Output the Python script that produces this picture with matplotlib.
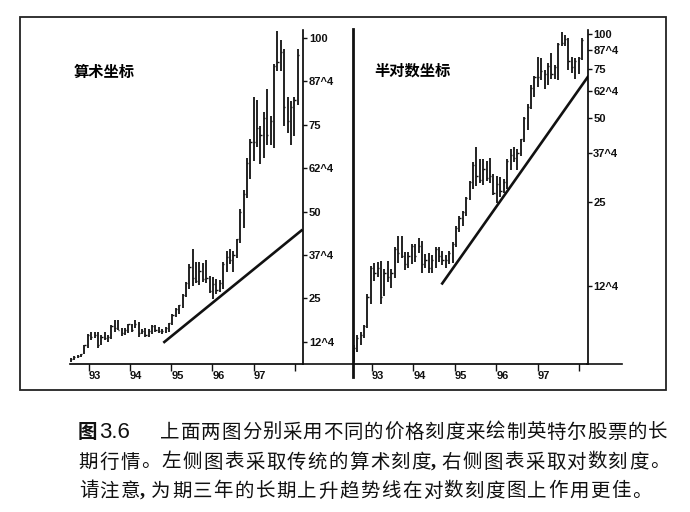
import numpy as np
import matplotlib
matplotlib.use('Agg')
import matplotlib.pyplot as plt
from matplotlib.lines import Line2D
from matplotlib.patches import Rectangle

plt.rcParams['font.family'] = ['Liberation Sans', 'Noto Sans CJK SC']

# ---------- data (Intel monthly bars) ----------
highs = [7.7, 8.4, 8.6, 9.1, 11.7, 14.8, 15.2, 15.3, 15.4, 14.4, 15.4, 14.4,
         17.3, 18.9, 18.9, 16.6, 16.6, 17.7, 17.7, 18.7, 18.2, 16.3, 16.5, 16.2,
         17.3, 17.3, 16.7, 16.2, 16.7, 18.0, 20.6, 22.3, 23.2, 26.2, 29.8, 34.9,
         39.3, 35.6, 35.6, 35.1, 36.1, 31.5, 31.1, 30.7, 30.2, 35.6, 38.7, 39.3,
         38.7, 42.2, 50.6, 56.2, 65.5, 71.0, 83.0, 82.0, 74.6, 78.7, 85.3, 77.6,
         92.6, 102.0, 99.3, 96.7, 83.0, 81.9, 83.0, 96.7]
lows = [6.7, 7.3, 7.7, 8.2, 8.9, 10.8, 13.1, 13.5, 10.8, 11.6, 13.0, 12.3,
        13.4, 15.2, 15.8, 14.3, 14.5, 15.0, 15.3, 16.5, 14.0, 14.6, 14.0, 14.0,
        14.6, 15.3, 14.9, 14.6, 15.1, 15.2, 17.3, 19.5, 20.6, 22.3, 25.5, 27.8,
        28.6, 29.4, 28.8, 29.7, 29.4, 26.6, 24.9, 26.2, 26.9, 27.8, 32.6, 34.9,
        32.6, 36.7, 41.0, 45.4, 53.8, 59.5, 64.6, 68.5, 63.7, 65.5, 69.1, 69.1,
        68.2, 90.5, 90.5, 74.6, 72.6, 69.1, 71.7, 80.8]
closes = [7.5, 8.2, 8.4, 9.0, 11.5, 14.5, 14.0, 14.5, 11.5, 14.0, 13.5, 14.0,
          17.0, 16.5, 16.0, 15.0, 16.0, 17.5, 16.0, 17.5, 15.0, 15.5, 14.5, 15.5,
          17.0, 16.0, 15.5, 15.5, 16.5, 17.8, 20.3, 22.0, 23.0, 26.0, 29.5, 34.0,
          31.0, 30.0, 33.0, 30.5, 31.0, 27.0, 29.0, 27.5, 29.5, 35.0, 37.0, 36.0,
          37.5, 42.0, 50.0, 55.0, 64.0, 70.0, 70.0, 74.0, 72.0, 77.0, 72.0, 76.0,
          92.0, 93.0, 96.0, 80.0, 76.0, 80.0, 82.0, 95.0]
first_bar = 92.57   # year of first bar
bar_step = 0.082    # years between bars

year_ticks = [93, 94, 95, 96, 97, 98]
year_labels = ['93', '94', '95', '96', '97', '']
price_ticks = [12.5, 25, 37.5, 50, 62.5, 75, 87.5, 100]
price_labels = ['12^4', '25', '37^4', '50', '62^4', '75', '87^4', '100']

# trend lines (start, end) in (year, price)
trend_lin = [(94.81, 12.2), (98.18, 44.8)]
trend_log = [(94.68, 12.7), (98.22, 70.8)]

caption = ['上面两图分别采用不同的价格刻度来绘制英特尔股票的长',
           '期行情。左侧图表采取传统的算术刻度,右侧图表采取对数刻度。',
           '请注意,为期三年的长期上升趋势线在对数刻度图上作用更佳。']

x = first_bar + bar_step * np.arange(len(highs))

W, H = 690, 512
fig = plt.figure(figsize=(W / 100, H / 100), dpi=100)


def fx(px):
    return px / W


def fy(py):
    return 1 - py / H


def bars(ax, trend, ylim, log=False):
    ax.vlines(x, lows, highs, color='#111111', lw=1.3)
    ax.hlines(closes, x, x + 0.03, color='#111111', lw=1.0)
    ax.plot([p[0] for p in trend], [p[1] for p in trend], color='#111111',
            lw=1.9, solid_capstyle='butt')
    if log:
        ax.set_yscale('log')
    ax.set_ylim(*ylim)
    ax.set_xlim(x[0] - 0.02, 98.2)
    ax.yaxis.tick_right()
    ax.set_yticks(price_ticks)
    ax.set_yticklabels(price_labels)
    ax.minorticks_off()
    ax.set_xticks(year_ticks)
    ax.set_xticklabels(year_labels, ha='left')
    ax.tick_params(axis='y', direction='out', length=3, width=1, pad=1,
                   labelsize=8, colors='#111111')
    ax.tick_params(axis='x', direction='out', length=5, width=1, pad=0,
                   labelsize=8, colors='#111111')
    for lab in ax.get_xticklabels() + ax.get_yticklabels():
        lab.set_fontweight('bold')
    for s in ['top', 'left']:
        ax.spines[s].set_visible(False)
    ax.spines['right'].set_linewidth(1.2)
    ax.spines['bottom'].set_linewidth(1.2)


# left panel: arithmetic scale
ax1 = fig.add_axes([fx(70), fy(364), fx(303.3) - fx(70), fy(30) - fy(364)])
bars(ax1, trend_lin, (6.1, 102.3))
ax1.text(0.015, 0.875, '算术坐标', transform=ax1.transAxes, fontsize=11,
         fontweight='bold', family='Noto Sans CJK SC', va='center')

# right panel: semi-log scale
ax2 = fig.add_axes([fx(353), fy(364), fx(587.7) - fx(353), fy(30) - fy(364)])
bars(ax2, trend_log, (6.6, 103.3), log=True)
ax2.text(0.09, 0.88, '半对数坐标', transform=ax2.transAxes, fontsize=11,
         fontweight='bold', family='Noto Sans CJK SC', va='center')

# frame and extended axis lines
fig.add_artist(Rectangle((fx(20), fy(390)), fx(666) - fx(20), fy(17) - fy(390),
                         transform=fig.transFigure, fill=False,
                         edgecolor='#222222', lw=1.3))
fig.add_artist(Line2D([fx(303), fx(353)], [fy(364), fy(364)],
                      transform=fig.transFigure, color='#111111', lw=1.2))
fig.add_artist(Line2D([fx(587), fx(622)], [fy(364), fy(364)],
                      transform=fig.transFigure, color='#111111', lw=1.2))
fig.add_artist(Line2D([fx(353), fx(353)], [fy(29), fy(377)],
                      transform=fig.transFigure, color='#111111', lw=2.0))

# caption, spread out character by character like the printed page
cap = dict(fontsize=14, family='Noto Sans CJK SC', va='center', color='#111111')
fig.text(fx(78), fy(432), '图', fontweight='bold', ha='left', **cap)
fig.text(fx(99), fy(433), '3.6', family='Liberation Sans', fontsize=16,
         va='center', ha='left', color='#111111')
line_spans = [(160, 668), (78, 670), (78, 652)]
line_ys = [432, 462, 491]
for text, (x0, x1), yy in zip(caption, line_spans, line_ys):
    widths = [0.45 if ch == ',' else 1.0 for ch in text]
    step = (x1 - x0) / sum(widths)
    pos = x0
    for ch, w in zip(text, widths):
        if ch == ',':
            fig.text(fx(pos - 1), fy(yy), ch, ha='left', family='Liberation Serif',
                     fontsize=15, fontweight='bold', va='center', color='#111111')
        else:
            fig.text(fx(pos + step * w / 2), fy(yy), ch, ha='center', **cap)
        pos += step * w

fig.savefig('out.png', dpi=100, facecolor='white')
